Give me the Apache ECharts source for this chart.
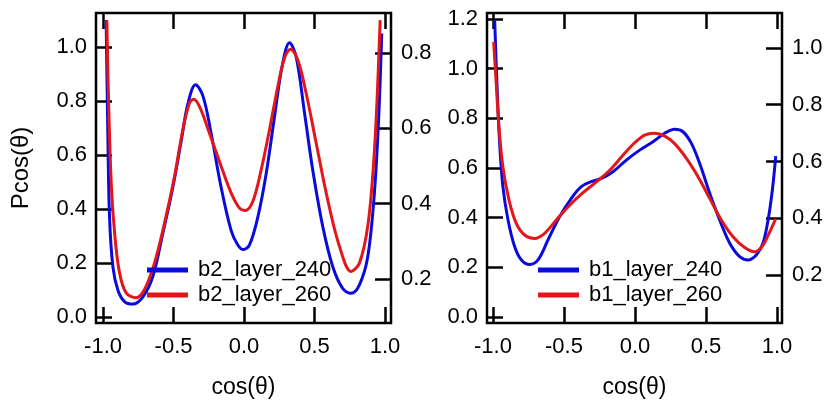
<!DOCTYPE html>
<html>
<head>
<meta charset="utf-8">
<script src="https://cdn.jsdelivr.net/npm/echarts@6/dist/echarts.min.js"></script>
<style>
  html, body { margin: 0; padding: 0; background: #ffffff; }
  #chart { width: 826px; height: 404px; }
</style>
</head>
<body>
<div id="chart"></div>
<script>
// tick labels
var xTicks = [-1.0, -0.5, 0.0, 0.5, 1.0]
var b2LeftTicks = [0.0, 0.2, 0.4, 0.6, 0.8, 1.0]
var b2RightTicks = [0.2, 0.4, 0.6, 0.8]
var b1LeftTicks = [0.0, 0.2, 0.4, 0.6, 0.8, 1.0, 1.2]
var b1RightTicks = [0.2, 0.4, 0.6, 0.8, 1.0]

// left panel, b2_layer_240 (left axis)
var b2_240_x = [-0.978, -0.966, -0.954, -0.93, -0.895, -0.848, -0.79, -0.717, -0.647, -0.576, -0.505, -0.446, -0.398, -0.344, -0.292, -0.233, -0.162, -0.091, -0.044, -0.004, 0.039, 0.098, 0.157, 0.216, 0.27, 0.323, 0.37, 0.43, 0.488, 0.559, 0.63, 0.70, 0.76, 0.819, 0.878, 0.925, 0.956, 0.977]
var b2_240_y = [1.10, 0.68, 0.37, 0.186, 0.10, 0.057, 0.048, 0.075, 0.15, 0.31, 0.48, 0.65, 0.79, 0.86, 0.82, 0.68, 0.48, 0.32, 0.267, 0.25, 0.267, 0.37, 0.53, 0.74, 0.927, 1.016, 0.964, 0.754, 0.544, 0.335, 0.186, 0.106, 0.088, 0.119, 0.223, 0.458, 0.742, 1.05]

// left panel, b2_layer_260 (right axis)
var b2_260_x = [-0.973, -0.961, -0.942, -0.918, -0.883, -0.836, -0.765, -0.706, -0.635, -0.564, -0.493, -0.434, -0.387, -0.358, -0.316, -0.245, -0.162, -0.091, -0.032, 0.011, 0.063, 0.122, 0.181, 0.24, 0.287, 0.33, 0.382, 0.441, 0.512, 0.594, 0.677, 0.76, 0.819, 0.878, 0.918, 0.944, 0.966]
var b2_260_y = [0.887, 0.675, 0.455, 0.322, 0.216, 0.163, 0.15, 0.172, 0.242, 0.348, 0.472, 0.596, 0.667, 0.677, 0.658, 0.587, 0.499, 0.428, 0.388, 0.382, 0.406, 0.49, 0.596, 0.711, 0.786, 0.81, 0.781, 0.693, 0.561, 0.41, 0.287, 0.22, 0.242, 0.34, 0.499, 0.675, 0.887]

// right panel, b1_layer_240 (left axis)
var b1_240_x = [-0.988, -0.972, -0.953, -0.93, -0.894, -0.847, -0.80, -0.742, -0.683, -0.613, -0.531, -0.448, -0.378, -0.308, -0.237, -0.155, -0.061, 0.033, 0.127, 0.209, 0.279, 0.338, 0.397, 0.455, 0.526, 0.596, 0.667, 0.737, 0.796, 0.854, 0.901, 0.937, 0.967, 0.991]
var b1_240_y = [1.196, 0.941, 0.699, 0.525, 0.391, 0.283, 0.23, 0.212, 0.23, 0.31, 0.404, 0.478, 0.525, 0.545, 0.558, 0.585, 0.632, 0.672, 0.706, 0.74, 0.756, 0.746, 0.699, 0.619, 0.498, 0.391, 0.297, 0.243, 0.23, 0.25, 0.297, 0.391, 0.511, 0.648]

// right panel, b1_layer_260 (right axis)
var b1_260_x = [-0.995, -0.977, -0.958, -0.93, -0.887, -0.836, -0.777, -0.707, -0.636, -0.554, -0.46, -0.366, -0.272, -0.178, -0.085, -0.002, 0.068, 0.138, 0.209, 0.279, 0.362, 0.444, 0.526, 0.608, 0.69, 0.772, 0.843, 0.897, 0.944, 0.991]
var b1_260_y = [1.021, 0.874, 0.722, 0.581, 0.464, 0.382, 0.341, 0.329, 0.347, 0.394, 0.446, 0.49, 0.528, 0.569, 0.622, 0.666, 0.693, 0.699, 0.689, 0.663, 0.611, 0.546, 0.47, 0.394, 0.335, 0.297, 0.282, 0.302, 0.347, 0.399]

var BLUE = '#0a0adc'
var RED = '#e3161c'
var FONT = 'Liberation Sans, Arial, sans-serif'

function pairs(xs, ys) {
  var out = []
  for (var i = 0; i < xs.length; i++) {
    out.push([xs[i], ys[i]])
  }
  return out
}

function fmt(v) {
  return Number(v).toFixed(1)
}

function tick(values) {
  return {
    show: true,
    inside: true,
    length: 16,
    customValues: values,
    lineStyle: { color: '#000', width: 2.5 }
  }
}

function xAxisOf(gridIndex, pos, min, max, withLabel) {
  return {
    type: 'value',
    gridIndex: gridIndex,
    position: pos,
    min: min,
    max: max,
    axisLine: { show: false, onZero: false },
    axisTick: tick(xTicks),
    axisLabel: {
      show: withLabel,
      customValues: xTicks,
      formatter: fmt,
      margin: 13,
      fontSize: 22,
      color: '#000',
      fontFamily: FONT
    },
    splitLine: { show: false },
    name: withLabel ? 'cos(θ)' : '',
    nameLocation: 'middle',
    nameGap: 53,
    nameTextStyle: { fontSize: 23, color: '#000', fontFamily: FONT }
  }
}

function yAxisOf(gridIndex, pos, min, max, ticks, name) {
  return {
    type: 'value',
    gridIndex: gridIndex,
    position: pos,
    min: min,
    max: max,
    axisLine: { show: false, onZero: false },
    axisTick: tick(ticks),
    axisLabel: {
      customValues: ticks,
      formatter: fmt,
      margin: pos === 'left' ? 9 : 10,
      fontSize: 22,
      color: '#000',
      fontFamily: FONT
    },
    splitLine: { show: false },
    name: name || '',
    nameLocation: 'middle',
    nameGap: 63,
    nameTextStyle: { fontSize: 24, color: '#000', fontFamily: FONT }
  }
}

function lineSeries(name, xi, yi, data, color) {
  return {
    name: name,
    type: 'line',
    xAxisIndex: xi,
    yAxisIndex: yi,
    data: data,
    symbol: 'none',
    smooth: 0.35,
    lineStyle: { color: color, width: 3 },
    itemStyle: { color: color }
  }
}

function legendOf(names, left) {
  return {
    data: names,
    orient: 'vertical',
    left: left,
    top: 259,
    padding: 0,
    itemGap: 3,
    icon: 'rect',
    itemWidth: 41,
    itemHeight: 5,
    selectedMode: false,
    textStyle: { fontSize: 22, color: '#000', fontFamily: FONT, padding: [0, 0, 0, 5] }
  }
}

var myChart = echarts.init(document.getElementById('chart'), null, { renderer: 'canvas' })

var option = {
  backgroundColor: '#ffffff',
  animation: false,
  grid: [
    { left: 96, right: 435, top: 13, bottom: 81, show: true, borderColor: '#000', borderWidth: 2.5, backgroundColor: 'transparent' },
    { left: 487, right: 44, top: 13, bottom: 81, show: true, borderColor: '#000', borderWidth: 2.5, backgroundColor: 'transparent' }
  ],
  legend: [
    legendOf(['b2_layer_240', 'b2_layer_260'], 147),
    legendOf(['b1_layer_240', 'b1_layer_260'], 538)
  ],
  xAxis: [
    xAxisOf(0, 'bottom', -1.05, 1.043, true),
    xAxisOf(0, 'top', -1.05, 1.043, false),
    xAxisOf(1, 'bottom', -1.042, 1.035, true),
    xAxisOf(1, 'top', -1.042, 1.035, false)
  ],
  yAxis: [
    yAxisOf(0, 'left', -0.022, 1.126, b2LeftTicks, 'Pcos(θ)'),
    yAxisOf(0, 'right', 0.083, 0.906, b2RightTicks),
    yAxisOf(1, 'left', -0.024, 1.224, b1LeftTicks),
    yAxisOf(1, 'right', 0.031, 1.123, b1RightTicks)
  ],
  series: [
    lineSeries('b2_layer_240', 0, 0, pairs(b2_240_x, b2_240_y), BLUE),
    lineSeries('b2_layer_260', 0, 1, pairs(b2_260_x, b2_260_y), RED),
    lineSeries('b1_layer_240', 2, 2, pairs(b1_240_x, b1_240_y), BLUE),
    lineSeries('b1_layer_260', 2, 3, pairs(b1_260_x, b1_260_y), RED)
  ]
}

myChart.setOption(option)
window.addEventListener('resize', function() {
  myChart.resize()
})
</script>
</body>
</html>
